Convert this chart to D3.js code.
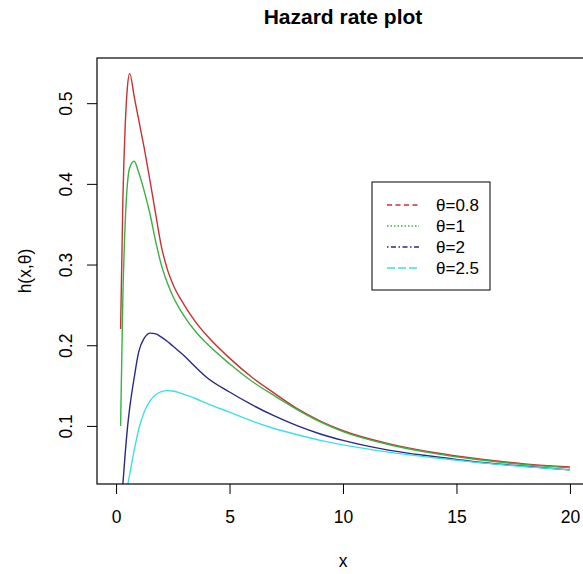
<!DOCTYPE html>
<html>
<head>
<meta charset="utf-8">
<script src="https://cdn.jsdelivr.net/npm/d3@7"></script>
<style>
  body { margin: 0; background: #fff; }
  svg { display: block; font-family: "Liberation Sans", Arial, sans-serif; }
</style>
</head>
<body>
<div id="chart"></div>
<script>
/**
 * CONSTANTS AND GLOBALS
 * */
const width = 583,
  height = 574,
  box = { left: 97, right: 589, top: 58, bottom: 484 };

// DATA
const xValues = [0.2, 0.3, 0.4, 0.5, 0.6, 0.8, 1, 1.25, 1.5, 1.75, 2, 2.25, 2.5, 3, 3.5, 4, 5, 6, 7, 8, 9, 10, 12, 14, 16, 18, 20];
const hTheta08 = [0.22, 0.38, 0.47, 0.52, 0.537, 0.508, 0.479, 0.443, 0.403, 0.362, 0.322, 0.295, 0.276, 0.25, 0.229, 0.212, 0.184, 0.16, 0.14, 0.121, 0.106, 0.094, 0.078, 0.067, 0.059, 0.053, 0.049];
const hTheta1 = [0.1, 0.26, 0.35, 0.4, 0.42, 0.428, 0.414, 0.39, 0.362, 0.328, 0.299, 0.278, 0.261, 0.236, 0.217, 0.202, 0.177, 0.155, 0.137, 0.12, 0.105, 0.093, 0.077, 0.066, 0.058, 0.052, 0.048];
const hTheta2 = [0.0, 0.028, 0.065, 0.097, 0.122, 0.16, 0.192, 0.209, 0.215, 0.214, 0.21, 0.205, 0.199, 0.187, 0.173, 0.16, 0.142, 0.126, 0.112, 0.1, 0.09, 0.082, 0.07, 0.062, 0.055, 0.05, 0.0455];
const hTheta25 = [0.0, 0.003, 0.012, 0.025, 0.04, 0.07, 0.096, 0.118, 0.131, 0.139, 0.1425, 0.1437, 0.1432, 0.139, 0.134, 0.128, 0.117, 0.106, 0.0965, 0.089, 0.082, 0.0765, 0.0675, 0.0605, 0.0545, 0.0495, 0.0455];
const thetaLabels = ["θ=0.8", "θ=1", "θ=2", "θ=2.5"];
const xTicks = [0, 5, 10, 15, 20];
const yTicks = [0.1, 0.2, 0.3, 0.4, 0.5];

// styles for each series (same order as thetaLabels)
const lineColors = ["#c83232", "#3cb043", "#2a2a82", "#3ee0e8"];
const legendDash = ["5,3.5", "1.5,2", "1.5,2.5,5,2.5", "8,3"];

const series = [hTheta08, hTheta1, hTheta2, hTheta25].map((vals, i) => ({
  label: thetaLabels[i],
  color: lineColors[i],
  dash: legendDash[i],
  points: xValues.map((x, j) => ({ x: x, y: vals[j] }))
}));

// SCALES
const xScale = d3.scaleLinear().domain([-0.84, 20.84]).range([box.left, box.right]);
const yScale = d3.scaleLinear().domain([0.028, 0.556]).range([box.bottom, box.top]);

const svg = d3.select("#chart")
  .append("svg")
  .attr("width", width)
  .attr("height", height);

// clip to the plot region, like R does
svg.append("clipPath")
  .attr("id", "plot-clip")
  .append("rect")
  .attr("x", box.left)
  .attr("y", box.top)
  .attr("width", box.right - box.left)
  .attr("height", box.bottom - box.top);

// LINES
const line = d3.line()
  .x(d => xScale(d.x))
  .y(d => yScale(d.y))
  .curve(d3.curveMonotoneX);

svg.append("g")
  .attr("clip-path", "url(#plot-clip)")
  .selectAll("path")
  .data(series)
  .join("path")
  .attr("fill", "none")
  .attr("stroke", d => d.color)
  .attr("stroke-width", 1.4)
  .attr("d", d => line(d.points));

// AXES
const xAxis = d3.axisBottom(xScale).tickValues(xTicks).tickSize(10);
const yAxis = d3.axisLeft(yScale).tickValues(yTicks).tickSize(10).tickFormat(d3.format(""));

svg.append("g")
  .attr("class", "axis x-axis")
  .attr("transform", `translate(0,${box.bottom})`)
  .call(xAxis)
  .call(g => g.select(".domain").remove())
  .call(g => g.selectAll("text")
    .attr("dy", 0)
    .attr("y", 39)
    .attr("font-size", 17.5)
    .attr("font-family", null)
    .attr("fill", "#000"));

svg.append("g")
  .attr("class", "axis y-axis")
  .attr("transform", `translate(${box.left},0)`)
  .call(yAxis)
  .call(g => g.select(".domain").remove())
  .call(g => g.selectAll("text")
    .attr("x", 0)
    .attr("y", 0)
    .attr("dy", 0)
    .attr("text-anchor", "middle")
    .attr("transform", "translate(-25,0) rotate(-90)")
    .attr("font-size", 17.5)
    .attr("font-family", null)
    .attr("fill", "#000"));

svg.selectAll(".tick line").attr("stroke", "#000");

// plot box
svg.append("rect")
  .attr("x", box.left)
  .attr("y", box.top)
  .attr("width", box.right - box.left)
  .attr("height", box.bottom - box.top)
  .attr("fill", "none")
  .attr("stroke", "#000")
  .attr("stroke-width", 1.2);

// TITLES
svg.append("text")
  .attr("x", (box.left + box.right) / 2)
  .attr("y", 24)
  .attr("text-anchor", "middle")
  .attr("font-size", 21)
  .attr("font-weight", "bold")
  .text("Hazard rate plot");

svg.append("text")
  .attr("x", (box.left + box.right) / 2)
  .attr("y", 567)
  .attr("text-anchor", "middle")
  .attr("font-size", 17.5)
  .text("x");

svg.append("text")
  .attr("transform", `translate(31,${(box.top + box.bottom) / 2}) rotate(-90)`)
  .attr("text-anchor", "middle")
  .attr("font-size", 17.5)
  .text("h(x,θ)");

// LEGEND
const legend = svg.append("g").attr("transform", "translate(372,182)");

legend.append("rect")
  .attr("width", 118)
  .attr("height", 108)
  .attr("fill", "#fff")
  .attr("stroke", "#000")
  .attr("stroke-width", 1);

const item = legend.selectAll(".item")
  .data(series)
  .join("g")
  .attr("class", "item")
  .attr("transform", (d, i) => `translate(0,${23 + i * 21})`);

item.append("line")
  .attr("x1", 15)
  .attr("x2", 47)
  .attr("stroke", d => d.color)
  .attr("stroke-width", 1.4)
  .attr("stroke-dasharray", d => d.dash);

item.append("text")
  .attr("x", 64)
  .attr("dy", "0.36em")
  .attr("font-size", 17)
  .text(d => d.label);
</script>
</body>
</html>
